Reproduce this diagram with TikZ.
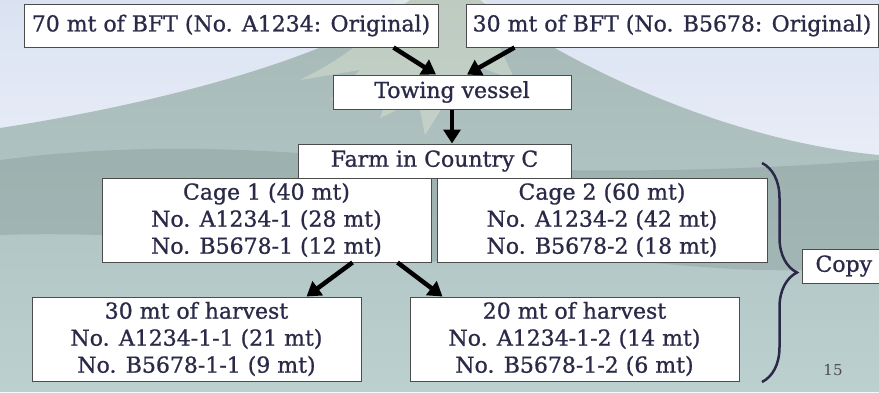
\documentclass[tikz,border=0pt]{standalone}
\usepackage{fontspec}
\setmainfont{DejaVu Serif}
\newfontfamily\boxfont{DejaVu Serif}[FakeBold=0.9]
\usetikzlibrary{arrows.meta,calc,decorations.pathreplacing}
\definecolor{ink}{RGB}{42,42,72}
\definecolor{skytop}{RGB}{218,226,242}
\definecolor{skylow}{RGB}{236,240,248}
\definecolor{mounttop}{RGB}{165,184,182}
\definecolor{mountmid}{RGB}{128,148,145}
\definecolor{mountlow}{RGB}{188,208,208}
\definecolor{snow}{RGB}{238,240,216}
\begin{document}
\begin{tikzpicture}[x=1pt,y=-1pt,>={Triangle[length=14pt,width=17pt]},
	box/.style={draw=black!70,line width=1pt,fill=white,text=ink,inner sep=0pt,align=center,font=\boxfont\fontsize{22}{27}\selectfont},
	arr/.style={->,line width=4.5pt}]
	\clip (0,0) rectangle (879,392);
	% background scene
	\shade[top color=skytop,bottom color=skylow] (0,0) rectangle (879,200);
	\shade[top color=mounttop,middle color=mountmid,bottom color=mountlow]
		(0,128) .. controls (150,105) and (330,60) .. (410,0) -- (480,0)
		.. controls (560,60) and (720,140) .. (879,155) -- (879,392) -- (0,392) -- cycle;
	\fill[snow,opacity=0.35] (395,0) -- (485,0) -- (525,38) -- (500,48) -- (515,80) -- (482,68)
		-- (470,110) -- (452,92) -- (425,135) -- (418,100) -- (380,118) -- (392,85) -- (330,100)
		-- (360,70) -- (300,80) .. controls (350,55) and (380,30) .. (395,0) -- cycle;
	\fill[mountmid,opacity=0.35] (0,160) .. controls (150,140) and (300,150) .. (420,165)
		.. controls (600,175) and (750,170) .. (879,160) -- (879,265) .. controls (700,285) and (600,240) .. (430,262)
		.. controls (300,250) and (150,230) .. (0,235) -- cycle;
	% boxes
	\node[box,minimum width=414pt,minimum height=43pt] (orgA) at (231,25.5) {70 mt of BFT (No. A1234: Original)};
	\node[box,minimum width=412pt,minimum height=43pt] (orgB) at (672,25.5) {30 mt of BFT (No. B5678: Original)};
	\node[box,minimum width=238pt,minimum height=34pt] (tow) at (452,92) {Towing vessel};
	\node[box,minimum width=273pt,minimum height=34pt] (farm) at (434.5,161) {Farm in Country C};
	\node[box,minimum width=329pt,minimum height=84pt] (cage1) at (266.5,220) {Cage 1 (40 mt)\\No. A1234-1 (28 mt)\\No. B5678-1 (12 mt)};
	\node[box,minimum width=330pt,minimum height=84pt] (cage2) at (602,220) {Cage 2 (60 mt)\\No. A1234-2 (42 mt)\\No. B5678-2 (18 mt)};
	\node[box,minimum width=329pt,minimum height=84pt] (harv1) at (196.5,339) {30 mt of harvest\\No. A1234-1-1 (21 mt)\\No. B5678-1-1 (9 mt)};
	\node[box,minimum width=329pt,minimum height=84pt] (harv2) at (574.5,339) {20 mt of harvest\\No. A1234-1-2 (14 mt)\\No. B5678-1-2 (6 mt)};
	\node[box,minimum width=110pt,minimum height=34pt,anchor=west,text width=90pt,align=left] (copy) at (802,266) {\hspace*{3pt}Copy};
	% arrows
	\draw[arr] ($(orgA.south east)+(-45,0)$) -- ($(tow.north)+(-16,0)$);
	\draw[arr] ($(orgB.south west)+(49,0)$) -- ($(tow.north)+(15,0)$);
	\draw[arr] (tow.south) -- (tow.south |- farm.north);
	\draw[arr] ($(cage1.south east)+(-79,0)$) -- ($(harv1.north east)+(-55,0)$);
	\draw[arr] ($(cage1.south east)+(-34,0)$) -- ($(harv2.north west)+(33,0)$);
	% brace
	\coordinate (brtop) at (762,163);
	\coordinate (brbot) at (762,382);
	\draw[ink,line width=2.5pt,decorate,decoration={brace,amplitude=35pt}] (brtop) -- (brbot);
	\node[text=black!70,font=\fontsize{15}{15}\selectfont] (pgno) at (833,370) {15};
\end{tikzpicture}
\end{document}
